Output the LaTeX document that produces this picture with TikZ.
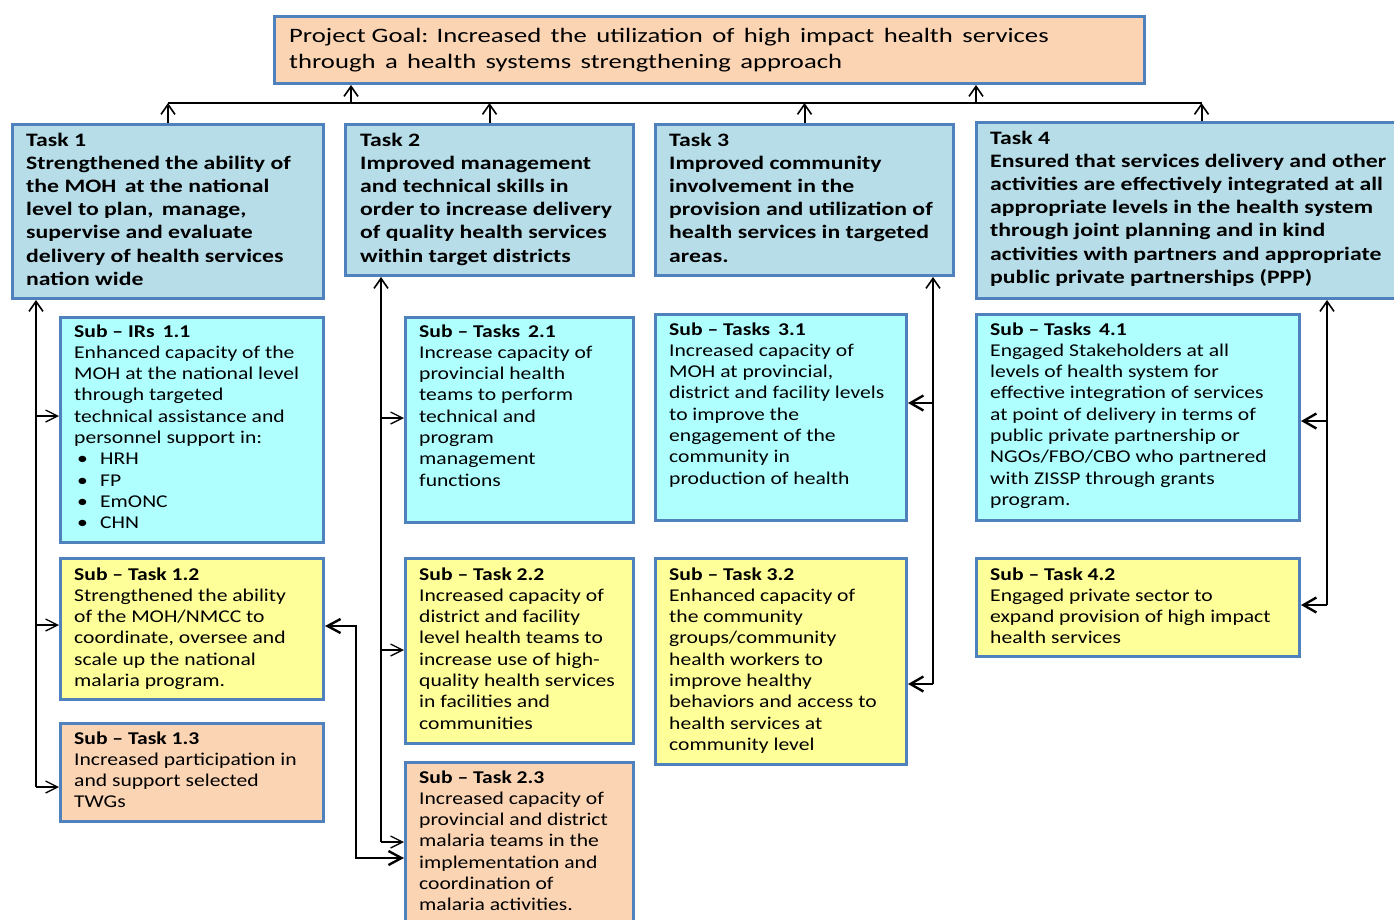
\documentclass[tikz,border=0pt]{standalone}
\usepackage{fontspec}
\setmainfont{Carlito}[FakeStretch=1.2]
\newfontfamily\goalfont{Carlito}[FakeStretch=1.3]
\newfontfamily\taskfont{Carlito}[FakeStretch=1.25]
\usetikzlibrary{arrows.meta}

\definecolor{frameblue}{HTML}{4F81BD}
\definecolor{goalfill}{HTML}{FBD4B4}
\definecolor{taskfill}{HTML}{B7DDE8}
\definecolor{subcyan}{HTML}{B0FFFF}
\definecolor{subyellow}{HTML}{FFFF99}

\newcommand{\bul}[1]{\hspace{3pt}\makebox[23pt][l]{•}#1}

\begin{document}
\begin{tikzpicture}[x=1pt, y=-1pt,
    box/.style={draw=frameblue, line width=3pt, anchor=north west, inner sep=0pt},
    goalbox/.style={box, fill=goalfill},
    taskbox/.style={box, fill=taskfill},
    cyanbox/.style={box, fill=subcyan},
    yellowbox/.style={box, fill=subyellow},
    peachbox/.style={box, fill=goalfill},
    goaltxt/.style={anchor=north west, align=left, inner sep=0pt, font=\goalfont\fontsize{20.5}{26}\selectfont},
    tasktxt/.style={anchor=north west, align=left, inner sep=0pt, font=\taskfont\bfseries\fontsize{19}{23.2}\selectfont},
    subtxt/.style={anchor=north west, align=left, inner sep=0pt, font=\fontsize{18}{21.3}\selectfont},
    line/.style={line width=2pt},
    uparrow/.style={line, -{Straight Barb[length=10pt, width=14pt, line width=1.6pt]}},
    thinarrow/.style={line, -{Straight Barb[length=12pt, width=12pt, line width=1.3pt]}},
    boldarrow/.style={line, -{Straight Barb[length=13pt, width=15pt, line width=2.4pt]}},
    bothways/.style={line, {Straight Barb[length=13pt, width=14pt, line width=2.4pt]}-{Straight Barb[length=13pt, width=14pt, line width=2.4pt]}}
  ]
  \useasboundingbox (0,0) rectangle (1394,919);

  % goal and tasks
  \node[goalbox, minimum width=870pt, minimum height=67pt] (goal) at (273,15) {};
  \node[taskbox, minimum width=311pt, minimum height=174pt] (t1) at (11,123) {};
  \node[taskbox, minimum width=288pt, minimum height=151pt] (t2) at (344,123) {};
  \node[taskbox, minimum width=298pt, minimum height=151pt] (t3) at (654,123) {};
  \node[taskbox, minimum width=450pt, minimum height=176pt] (t4) at (975,121) {};

  % sub tasks
  \node[cyanbox, minimum width=263pt, minimum height=225pt] (s11) at (59,316) {};
  \node[cyanbox, minimum width=228pt, minimum height=205pt] (s21) at (404,316) {};
  \node[cyanbox, minimum width=251pt, minimum height=206pt] (s31) at (654,313) {};
  \node[cyanbox, minimum width=323pt, minimum height=206pt] (s41) at (975,313) {};
  \node[yellowbox, minimum width=263pt, minimum height=141pt] (s12) at (59,557) {};
  \node[yellowbox, minimum width=228pt, minimum height=185pt] (s22) at (404,557) {};
  \node[yellowbox, minimum width=251pt, minimum height=206pt] (s32) at (654,557) {};
  \node[yellowbox, minimum width=323pt, minimum height=98pt] (s42) at (975,557) {};
  \node[peachbox, minimum width=263pt, minimum height=98pt] (s13) at (59,722) {};
  \node[peachbox, minimum width=228pt, minimum height=180pt] (s23) at (404,761) {};

  % texts
  \node[goaltxt] (goaltext) at (289,28.5) {Project Goal: Increased\, the\, utilization\, of\, high\, impact\, health\, services\\
    through\, a\, health\, systems\, strengthening\, approach};
  \node[tasktxt] (t1text) at (26,132.5) {Task 1\\ Strengthened the ability of\\ the MOH\, at the national\\
    level to plan,\, manage,\\ supervise and evaluate\\ delivery of health services\\ nation wide};
  \node[tasktxt] (t2text) at (360,132.5) {Task 2\\ Improved management\\ and technical skills in\\
    order to increase delivery\\ of quality health services\\ within target districts};
  \node[tasktxt] (t3text) at (669,132.5) {Task 3\\ Improved community\\ involvement in the\\
    provision and utilization of\\ health services in targeted\\ areas.};
  \node[tasktxt] (t4text) at (990,130.5) {Task 4\\ Ensured that services delivery and other\\
    activities are effectively integrated at all\\ appropriate levels in the health system\\
    through joint planning and in kind\\ activities with partners and appropriate\\
    public private partnerships (PPP)};

  \node[subtxt] (s11text) at (74,324.2) {\textbf{Sub – IRs\, 1.1}\\ Enhanced capacity of the\\
    MOH at the national level\\ through targeted\\ technical assistance and\\ personnel support in:\\
    \bul{HRH}\\ \bul{FP}\\ \bul{EmONC}\\ \bul{CHN}};
  \node[subtxt] (s21text) at (419,324.2) {\textbf{Sub – Tasks\, 2.1}\\ Increase capacity of\\
    provincial health\\ teams to perform\\ technical and\\ program\\ management\\ functions};
  \node[subtxt] (s31text) at (669,322.2) {\textbf{Sub – Tasks\, 3.1}\\ Increased capacity of\\
    MOH at provincial,\\ district and facility levels\\ to improve the\\ engagement of the\\
    community in\\ production of health};
  \node[subtxt] (s41text) at (990,322.2) {\textbf{Sub – Tasks\, 4.1}\\ Engaged Stakeholders at all\\
    levels of health system for\\ effective integration of services\\ at point of delivery in terms of\\
    public private partnership or\\ NGOs/FBO/CBO who partnered\\ with ZISSP through grants\\ program.};
  \node[subtxt] (s12text) at (74,567.2) {\textbf{Sub – Task 1.2}\\ Strengthened the ability\\
    of the MOH/NMCC to\\ coordinate, oversee and\\ scale up the national\\ malaria program.};
  \node[subtxt] (s22text) at (419,567.2) {\textbf{Sub – Task 2.2}\\ Increased capacity of\\
    district and facility\\ level health teams to\\ increase use of high-\\ quality health services\\
    in facilities and\\ communities};
  \node[subtxt] (s32text) at (669,567.2) {\textbf{Sub – Task 3.2}\\ Enhanced capacity of\\
    the community\\ groups/community\\ health workers to\\ improve healthy\\
    behaviors and access to\\ health services at\\ community level};
  \node[subtxt] (s42text) at (990,567.2) {\textbf{Sub – Task 4.2}\\ Engaged private sector to\\
    expand provision of high impact\\ health services};
  \node[subtxt] (s13text) at (74,731.2) {\textbf{Sub – Task 1.3}\\ Increased participation in\\
    and support selected\\ TWGs};
  \node[subtxt] (s23text) at (419,770.2) {\textbf{Sub – Task 2.3}\\ Increased capacity of\\
    provincial and district\\ malaria teams in the\\ implementation and\\ coordination of\\
    malaria activities.};

  % tasks up to the goal
  \coordinate (bar) at (0,103);
  \coordinate (g1) at (351,103);
  \coordinate (g2) at (976,103);
  \draw[line] (t1.north |- bar) -- (t4.north |- bar);
  \foreach \t in {t1,t2,t3,t4}
    \draw[uparrow] (\t.north) -- (\t.north |- bar);
  \draw[uparrow] (g1) -- (g1 |- goal.south);
  \draw[uparrow] (g2) -- (g2 |- goal.south);

  % task 1 and its sub tasks
  \coordinate (b11) at (36,416);
  \coordinate (b12) at (36,625);
  \coordinate (b13) at (36,787);
  \draw[uparrow] (b13) -- (b13 |- t1.south);
  \draw[thinarrow] (b11) -- (b11 -| s11.west);
  \draw[thinarrow] (b12) -- (b12 -| s12.west);
  \draw[thinarrow] (b13) -- (b13 -| s13.west);

  % task 2 and its sub tasks
  \coordinate (b21) at (381,418);
  \coordinate (b22) at (381,650);
  \coordinate (b23) at (381,842);
  \draw[uparrow] (b23) -- (b23 |- t2.south);
  \draw[thinarrow] (b21) -- (b21 -| s21.west);
  \draw[thinarrow] (b22) -- (b22 -| s22.west);
  \draw[thinarrow] (b23) -- (b23 -| s23.west);

  % malaria link
  \coordinate (c1) at (356,626);
  \coordinate (c2) at (356,858);
  \draw[bothways] (c1 -| s12.east) -- (c1) -- (c2) -- (c2 -| s23.west);

  % task 3 and its sub tasks
  \coordinate (b31) at (933,403);
  \coordinate (b32) at (933,684);
  \draw[uparrow] (b32) -- (b32 |- t3.south);
  \draw[boldarrow] (b31) -- (b31 -| s31.east);
  \draw[boldarrow] (b32) -- (b32 -| s32.east);

  % task 4 and its sub tasks
  \coordinate (b41) at (1327,421);
  \coordinate (b42) at (1327,605);
  \draw[uparrow] (b42) -- (b42 |- t4.south);
  \draw[boldarrow] (b41) -- (b41 -| s41.east);
  \draw[boldarrow] (b42) -- (b42 -| s42.east);
\end{tikzpicture}
\end{document}
